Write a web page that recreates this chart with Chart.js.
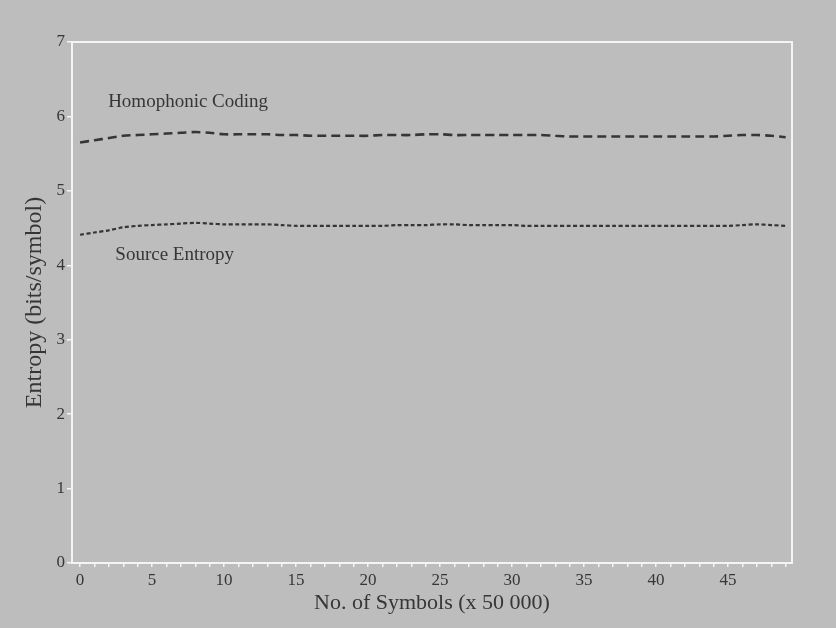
<!DOCTYPE html>
<html><head><meta charset="utf-8">
<script src="https://cdn.jsdelivr.net/npm/chart.js@4"></script>
<style>html,body{margin:0;padding:0;background:#bcbcbc;}#wrap{width:836px;height:628px;}</style>
</head><body><div id="wrap"><canvas id="c" width="836" height="628"></canvas></div>
<script>
const symbols = [0,1,2,3,4,5,6,7,8,9,10,11,12,13,14,15,16,17,18,19,20,21,22,23,24,25,26,27,28,29,30,31,32,33,34,35,36,37,38,39,40,41,42,43,44,45,46,47,48,49];
const homophonic = [5.65,5.68,5.71,5.74,5.75,5.76,5.77,5.78,5.79,5.78,5.76,5.76,5.76,5.76,5.75,5.75,5.74,5.74,5.74,5.74,5.74,5.75,5.75,5.75,5.76,5.76,5.75,5.75,5.75,5.75,5.75,5.75,5.75,5.74,5.73,5.73,5.73,5.73,5.73,5.73,5.73,5.73,5.73,5.73,5.73,5.74,5.75,5.75,5.74,5.72];
const sourceEntropy = [4.41,4.44,4.47,4.51,4.53,4.54,4.55,4.56,4.57,4.56,4.55,4.55,4.55,4.55,4.54,4.53,4.53,4.53,4.53,4.53,4.53,4.53,4.54,4.54,4.54,4.55,4.55,4.54,4.54,4.54,4.54,4.53,4.53,4.53,4.53,4.53,4.53,4.53,4.53,4.53,4.53,4.53,4.53,4.53,4.53,4.53,4.54,4.55,4.54,4.53];
const xTickLabels = [0,5,10,15,20,25,30,35,40,45];
const yTickLabels = [0,1,2,3,4,5,6,7];
const seriesLabels = ["Homophonic Coding","Source Entropy"];
const labelAnchors = [[1.95,6.19],[2.45,4.14]];

const BG = '#bdbdbd', INK = '#363636', FONT = '"Liberation Serif", "DejaVu Serif", serif';

const bgPlugin = {
  id:'bg',
  beforeDraw(chart){const c=chart.ctx;c.save();c.fillStyle=BG;c.fillRect(0,0,chart.width,chart.height);c.restore();},
  afterDatasetsDraw(chart){
    const c=chart.ctx, a=chart.chartArea, xs=chart.scales.x, ys=chart.scales.y;
    c.save();
    c.strokeStyle='#f4f4f4';c.lineWidth=2;
    c.strokeRect(a.left,a.top,a.right-a.left,a.bottom-a.top);
    c.fillStyle=INK;c.font='19px '+FONT;c.textBaseline='middle';c.textAlign='left';
    seriesLabels.forEach((t,i)=>{
      c.fillText(t, xs.getPixelForValue(labelAnchors[i][0]), ys.getPixelForValue(labelAnchors[i][1]));
    });
    c.restore();
  }
};

new Chart(document.getElementById('c'),{
  type:'line',
  data:{datasets:[
    {label:seriesLabels[0],data:symbols.map((x,i)=>({x,y:homophonic[i]})),borderColor:INK,borderWidth:2.6,borderDash:[9,5],pointRadius:0,tension:0.3,fill:false},
    {label:seriesLabels[1],data:symbols.map((x,i)=>({x,y:sourceEntropy[i]})),borderColor:INK,borderWidth:2.2,borderDash:[4,2.5],pointRadius:0,tension:0.3,fill:false}
  ]},
  options:{
    responsive:false,animation:false,
    layout:{padding:{left:12,right:44,top:42,bottom:8}},
    plugins:{legend:{display:false},tooltip:{enabled:false}},
    scales:{
      x:{type:'linear',min:-0.56,max:49.44,
        afterBuildTicks(s){s.ticks=symbols.map(v=>({value:v}));},
        afterFit(s){s.height=57;},
        border:{display:false},
        grid:{display:true,drawOnChartArea:false,drawTicks:true,tickLength:4,color:'#f4f4f4',lineWidth:1.5},
        ticks:{autoSkip:false,maxRotation:0,color:INK,font:{family:FONT,size:17},padding:3,
          callback:(v)=>xTickLabels.includes(v)?String(v):''},
        title:{display:true,text:'No. of Symbols (x 50 000)',color:INK,font:{family:FONT,size:22},padding:{top:0,bottom:4}}
      },
      y:{type:'linear',min:0,max:7,
        afterBuildTicks(s){s.ticks=yTickLabels.map(v=>({value:v}));},
        afterFit(s){s.width=60;},
        border:{display:false},
        grid:{display:true,drawOnChartArea:false,drawTicks:true,tickLength:5,color:'#f4f4f4',lineWidth:1.5},
        ticks:{color:INK,font:{family:FONT,size:17},padding:2},
        title:{display:true,text:'Entropy (bits/symbol)',color:INK,font:{family:FONT,size:24},padding:{top:8,bottom:0}}
      }
    }
  },
  plugins:[bgPlugin]
});
</script></body></html>
